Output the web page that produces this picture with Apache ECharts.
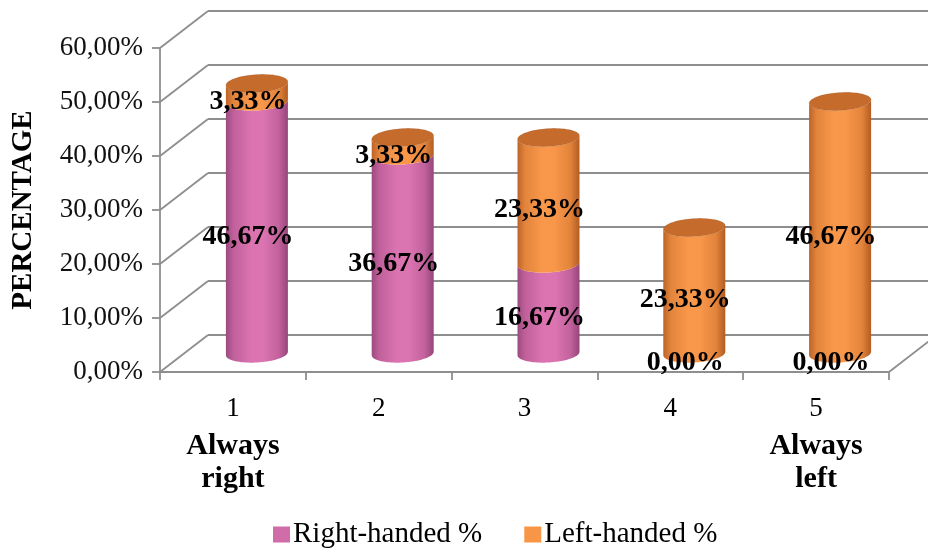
<!DOCTYPE html>
<html>
<head>
<meta charset="utf-8">
<script src="https://cdn.jsdelivr.net/npm/echarts@6/dist/echarts.min.js"></script>
<style>
  html, body { margin: 0; padding: 0; background: #fff; }
  #chart { width: 928px; height: 550px; }
</style>
</head>
<body>
<div id="chart"></div>
<script>
// Handedness scale categories and the share of each group per category (%)
const categories = ['1', '2', '3', '4', '5'];
const categoryNotes = [['Always', 'right'], [], [], [], ['Always', 'left']];
const rightHanded = [46.67, 36.67, 16.67, 0, 0];
const leftHanded = [3.33, 3.33, 23.33, 23.33, 46.67];
const seriesNames = ['Right-handed %', 'Left-handed %'];
const yMin = 0, yMax = 60, yStep = 10;

// Fake 3D look: depth offset of the back wall relative to the front plane
const DEPTH_X = 48;
const DEPTH_Y = -37;
const TILT = -0.06;
const FONT = '"Liberation Serif", "Times New Roman", serif';
const LINE = '#8e8e8e';

const palette = {
  right: {
    legend: '#D06CA8',
    body: [
      [0, '#9C4A80'], [0.12, '#C0609B'], [0.4, '#DB73B1'], [0.6, '#DC74B2'],
      [0.85, '#C3629D'], [1, '#95467A']
    ],
    cap: '#C766A1'
  },
  left: {
    legend: '#F79646',
    body: [
      [0, '#BC6328'], [0.12, '#E2843C'], [0.4, '#F9984A'], [0.6, '#F8964A'],
      [0.85, '#E2843B'], [1, '#B35C22']
    ],
    cap: '#C56B2C'
  }
};

const fmtPct = v => v.toFixed(2).replace('.', ',') + '%';

// point on a slightly tilted ellipse
function ellipsePt(cx, cy, rx, ry, t) {
  const c = Math.cos(t), s = Math.sin(t);
  const ct = Math.cos(TILT), st = Math.sin(TILT);
  return [cx + rx * c * ct - ry * s * st, cy + rx * c * st + ry * s * ct];
}

function frontArc(cx, cy, rx, ry, from, to, n) {
  const pts = [];
  for (let k = 0; k <= n; k++) {
    const t = from + (to - from) * k / n;
    pts.push(ellipsePt(cx, cy, rx, ry, t));
  }
  return pts;
}

function cylinderItem(colors) {
  return function (params, api) {
    const idx = api.value(0);
    const base = api.value(1);
    const top = api.value(2);
    const isTop = api.value(3) === 1;
    if (top - base <= 0) return null;
    const p0 = api.coord([idx, base]);
    const p1 = api.coord([idx, top]);
    const band = api.size([1, 0])[0];
    const rx = band * 0.213;
    const ry = 9;
    const cx = p0[0] + DEPTH_X / 2;
    const yb = p0[1] + DEPTH_Y / 2;
    const yt = p1[1] + DEPTH_Y / 2;
    // body: bottom front arc (left->right), then top front arc (right->left)
    const pts = frontArc(cx, yb, rx, ry, Math.PI, 0, 40)
      .concat(frontArc(cx, yt, rx, ry, 0, Math.PI, 40));
    const children = [{
      type: 'polygon',
      shape: { points: pts },
      style: {
        fill: {
          type: 'linear', x: 0, y: 0, x2: 1, y2: 0,
          colorStops: colors.body.map(s => ({ offset: s[0], color: s[1] }))
        }
      }
    }];
    if (isTop) {
      children.push({
        type: 'polygon',
        shape: { points: frontArc(cx, yt, rx, ry, 0, Math.PI * 2, 80) },
        style: {
          fill: colors.cap,
          stroke: 'rgba(0,0,0,0.08)',
          lineWidth: 0.8
        }
      });
    }
    return { type: 'group', children: children };
  };
}

// back wall, side wall and floor outlines
function wallsItem(params, api) {
  const cs = params.coordSys;
  const x0 = cs.x, x1 = cs.x + cs.width;
  const lines = [];
  for (let v = yMin; v <= yMax; v += yStep) {
    const y = api.coord([0, v])[1];
    lines.push([[x0, y], [x0 + DEPTH_X, y + DEPTH_Y]]);
    lines.push([[x0 + DEPTH_X, y + DEPTH_Y], [x1 + DEPTH_X, y + DEPTH_Y]]);
  }
  const yFloor = api.coord([0, yMin])[1];
  lines.push([[x1, yFloor], [x1 + DEPTH_X, yFloor + DEPTH_Y]]);
  return {
    type: 'group',
    children: lines.map(l => ({
      type: 'line',
      shape: { x1: l[0][0], y1: l[0][1], x2: l[1][0], y2: l[1][1] },
      style: { stroke: LINE, lineWidth: 1.8 }
    }))
  };
}

function labelItem(params, api) {
  const idx = api.value(0);
  const mid = api.value(1);
  const val = api.value(2);
  const p = api.coord([idx, mid]);
  return {
    type: 'text',
    style: {
      text: fmtPct(val),
      x: p[0] + 15,
      y: p[1] - 9,
      align: 'center',
      verticalAlign: 'middle',
      fill: '#000',
      font: 'bold 28px ' + FONT
    }
  };
}

const rightData = rightHanded.map((v, i) => [i, 0, v, leftHanded[i] === 0 ? 1 : 0]);
const leftData = leftHanded.map((v, i) => [i, rightHanded[i], rightHanded[i] + v, 1]);
const labelData = [];
rightHanded.forEach((v, i) => labelData.push([i, v / 2, v]));
leftHanded.forEach((v, i) => labelData.push([i, rightHanded[i] + v / 2, v]));

const chart = echarts.init(document.getElementById('chart'), null, { renderer: 'canvas' });
chart.setOption({
  animation: false,
  backgroundColor: '#fff',
  grid: { left: 160, right: 39, top: 48, bottom: 178, containLabel: false },
  legend: {
    top: 520,
    left: 273,
    padding: 0,
    itemWidth: 17,
    itemHeight: 16,
    itemGap: 42,
    textStyle: { fontFamily: FONT, fontSize: 29, color: '#000', padding: [0, 0, 0, -2] },
    data: [
      { name: seriesNames[0], icon: 'rect' },
      { name: seriesNames[1], icon: 'rect' }
    ]
  },
  xAxis: {
    type: 'category',
    data: categories,
    axisLine: { lineStyle: { color: LINE, width: 1.8 } },
    axisTick: { show: true, length: 8, lineStyle: { color: LINE, width: 1.8 } },
    axisLabel: {
      margin: 15,
      formatter: function (value, i) {
        const notes = categoryNotes[i] || [];
        return ['{n|' + value + '}'].concat(notes.map(t => '{b|' + t + '}')).join('\n');
      },
      rich: {
        n: { fontFamily: FONT, fontSize: 27, color: '#000', lineHeight: 43 },
        b: { fontFamily: FONT, fontSize: 30, fontWeight: 'bold', color: '#000', lineHeight: 33 }
      }
    }
  },
  yAxis: {
    type: 'value',
    min: yMin,
    max: yMax,
    interval: yStep,
    name: 'PERCENTAGE',
    nameLocation: 'middle',
    nameRotate: 90,
    nameGap: 122,
    nameTextStyle: { fontFamily: FONT, fontSize: 29, fontWeight: 'bold', color: '#000' },
    axisLine: { show: true, lineStyle: { color: LINE, width: 1.8 } },
    axisTick: { show: true, length: 8, lineStyle: { color: LINE, width: 1.8 } },
    splitLine: { show: false },
    axisLabel: {
      margin: 17,
      fontFamily: FONT,
      fontSize: 27,
      color: '#111',
      formatter: v => fmtPct(v)
    }
  },
  series: [
    {
      type: 'custom',
      name: 'walls',
      silent: true,
      clip: false,
      z: 1,
      renderItem: wallsItem,
      data: [[0, 0]]
    },
    {
      type: 'custom',
      name: seriesNames[0],
      clip: false,
      z: 2,
      itemStyle: { color: palette.right.legend },
      renderItem: cylinderItem(palette.right),
      encode: { x: 0, y: [1, 2] },
      data: rightData
    },
    {
      type: 'custom',
      name: seriesNames[1],
      clip: false,
      z: 3,
      itemStyle: { color: palette.left.legend },
      renderItem: cylinderItem(palette.left),
      encode: { x: 0, y: [1, 2] },
      data: leftData
    },
    {
      type: 'custom',
      name: 'labels',
      silent: true,
      clip: false,
      z: 5,
      renderItem: labelItem,
      encode: { x: 0, y: 1 },
      data: labelData
    }
  ]
});
</script>
</body>
</html>
